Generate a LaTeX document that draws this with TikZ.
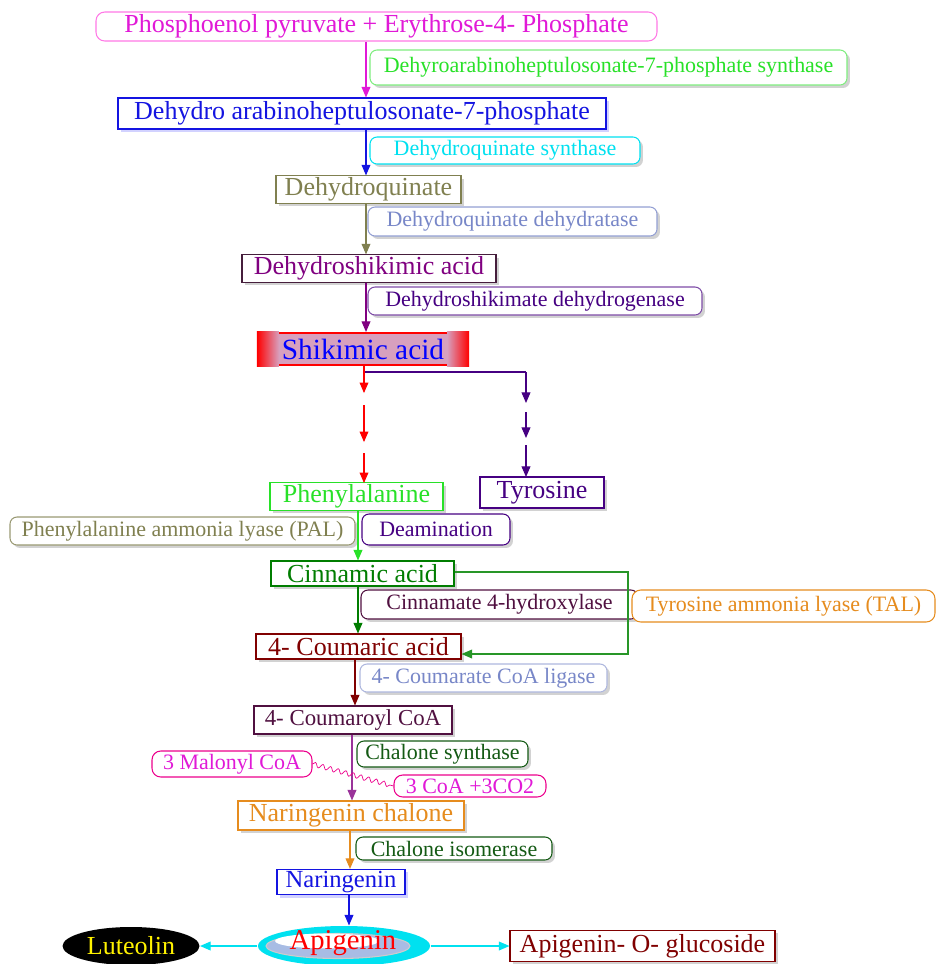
\documentclass[tikz,border=0pt]{standalone}
\usepackage{fontspec}
\setmainfont{Liberation Serif}
\usetikzlibrary{arrows.meta,shapes.geometric,shadows,calc,decorations.pathmorphing}
\definecolor{pepmag}{RGB}{225,25,215}
\definecolor{pepline}{RGB}{255,120,230}
\definecolor{lime}{RGB}{40,225,40}
\definecolor{dahpblue}{RGB}{20,20,225}
\definecolor{aqua}{RGB}{0,225,240}
\definecolor{olivetxt}{RGB}{128,128,80}
\definecolor{slate}{RGB}{120,135,200}
\definecolor{plum}{RGB}{128,0,128}
\definecolor{plumline}{RGB}{70,30,60}
\definecolor{indigo}{RGB}{70,0,130}
\definecolor{darkgreen}{RGB}{0,125,0}
\definecolor{talgreen}{RGB}{40,150,40}
\definecolor{wine}{RGB}{80,16,64}
\definecolor{amber}{RGB}{230,140,30}
\definecolor{maroon}{RGB}{128,0,0}
\definecolor{pine}{RGB}{20,90,20}
\definecolor{apiblue}{RGB}{168,188,228}
\definecolor{shikpink}{RGB}{215,160,190}
\newcommand\bigtxt{\fontsize{14.8}{17}\selectfont}
\newcommand\smtxt{\fontsize{12.5}{15}\selectfont}

\begin{document}
\begin{tikzpicture}[x=0.02cm, y=-0.02cm, line width=0.6pt,
 	->/.style={arrows={-Triangle[length=6pt, width=5pt]}},
	every node/.style={inner sep=1pt,
                        font=\bigtxt
                        },
	sh/.style={drop shadow={shadow xshift=1.7pt, shadow yshift=-1.7pt,
                        fill=#1, opacity=0.5}},
	sh/.default=gray!70,
	proc/.style= {draw, fill=white, sh=#1},
	proc/.default=gray!70,
	enz/.style= {draw, fill=white, rounded corners=4pt,
    			  font=\smtxt, sh
    },
	pill/.style= {draw, fill=white, rounded corners=5pt,
    			  font=\smtxt
    },
	sz/.style 2 args={minimum width=#1*0.02cm, minimum height=#2*0.02cm}
]
	\useasboundingbox (0,0) rectangle (937,964);
	\coordinate (spine) at (366,0);
	\node (pep) [pill, font=\bigtxt, draw=pepline, text=pepmag, sz={561}{29}] at (376.5,26.5) {Phosphoenol pyruvate + Erythrose-4- Phosphate};
	\node (dahps) [enz, draw=lime!60, text=lime, sz={477}{35}] at (608.5,67.5) {Dehyroarabinoheptulosonate-7-phosphate synthase};
	\node (dahp) [proc=blue!35, draw=dahpblue, text=dahpblue, sz={488}{31}] at (362,113.5) {Dehydro arabinoheptulosonate-7-phosphate};
	\node (dhqs) [enz, draw=aqua, text=aqua, sz={270}{27}] at (505,150.5) {Dehydroquinate synthase};
	\node (dhq) [proc, draw=olivetxt, text=olivetxt, sz={185}{27}] at (368.5,189.5) {Dehydroquinate};
	\node (dhqd) [enz, draw=slate!80, text=slate, sz={289}{29}] at (512.5,221.5) {Dehydroquinate dehydratase};
	\node (dhs) [proc, draw=plumline, text=plum, sz={254}{27}] at (369,268.5) {Dehydroshikimic acid};
	\node (sdh) [enz, draw=indigo!70, text=indigo, sz={334}{28}] at (535,301) {Dehydroshikimate dehydrogenase};
	\node (shik) [draw=red, line width=1.2pt, fill=shikpink, sz={210}{32}] at (363,349) {};
	\fill[left color=red, right color=shikpink] (shik.north west) rectangle ($(shik.south west)+(22,0)$);
	\fill[left color=shikpink, right color=red] ($(shik.north east)+(-22,0)$) rectangle (shik.south east);
	\node (shiktxt) [text=blue, font=\fontsize{16.7}{20}\selectfont] at (shik) {Shikimic acid};
	\node (phe) [proc, draw=lime, text=lime, sz={173}{27}] at (356.5,496.5) {Phenylalanine};
	\node (tyr) [proc, draw=indigo, text=indigo, sz={124}{31}] at (542,492.5) {Tyrosine};
	\node (pal) [enz, draw=olivetxt!80, text=olivetxt, sz={345}{28}] at (182.5,531) {Phenylalanine ammonia lyase (PAL)};
	\node (deam) [enz, draw=indigo, text=indigo, sz={148}{31}] at (436,529.5) {Deamination};
	\node (cin) [proc, draw=darkgreen, text=darkgreen, sz={183}{25}] at (362.5,573.5) {Cinnamic acid};
	\node (c4h) [enz, draw=wine, text=wine, sz={277}{29}] at (499.5,604.5) {Cinnamate 4-hydroxylase};
	\node (tal) [pill, draw=amber, text=amber, sz={303}{32}] at (783.5,606) {Tyrosine ammonia lyase (TAL)};
	\node (coum) [proc, draw=maroon, text=maroon, sz={205}{25}] at (358.5,646.5) {4- Coumaric acid};
	\node (fourcl) [enz, draw=slate!60, text=slate, sz={247}{28}] at (483.5,678) {4- Coumarate CoA ligase};
	\node (coa) [proc, draw=wine, text=wine, font=\fontsize{13}{15}\selectfont, sz={198}{28}] at (353,720) {4- Coumaroyl CoA};
	\node (chs) [enz, draw=pine, text=pine, sz={171}{26}] at (442.5,754) {Chalone synthase};
	\node (mal) [pill, draw=magenta, text=pepmag, sz={160}{26}] at (232,764) {3 Malonyl CoA};
	\node (co2) [pill, draw=magenta, text=pepmag, sz={152}{22}] at (470,786) {3 CoA +3CO2};
	\node (narch) [proc, draw=amber, text=amber, sz={226}{29}] at (351,815.5) {Naringenin chalone};
	\node (chi) [enz, draw=pine, text=pine, sz={196}{23}] at (454,848.5) {Chalone isomerase};
	\node (nar) [proc=blue!35, draw=dahpblue, text=dahpblue, font=\fontsize{14}{16}\selectfont, sz={128}{24}] at (341,882) {Naringenin};
	\node (api) [ellipse, fill=aqua, sz={172}{40}] at (344,946) {};
	\node (apiin) [ellipse, fill=apiblue, draw=gray!40, sz={144}{25}] at (338,946) {};
	\node (apihl) [ellipse, fill=white, sz={104}{15}] at (327,941) {};
	\node (apitxt) [text=red, font=\fontsize{16.3}{19}\selectfont] at (343,943) {Apigenin};
	\node (lut) [ellipse, fill=black, text=yellow, sz={137}{38}] at (131,946) {Luteolin};
	\node (glu) [proc, draw=maroon, text=maroon, sz={265}{31}] at (642.5,946) {Apigenin- O- glucoside};

	\draw[->, pepmag] (pep.south -| spine) -- (dahp.north -| spine);
	\draw[->, dahpblue] (dahp.south -| spine) -- (dhq.north -| spine);
	\draw[->, olivetxt] (dhq.south -| spine) -- (dhs.north -| spine);
	\draw[->, plum] (dhs.south -| spine) -- (shik.north -| spine);
	\foreach \a/\b in {0/27,39/76,87/117}
		\draw[->, red] ($(shik.south)+(1,\a)$) -- ($(shik.south)+(1,\b)$);
	\coordinate (fork) at (365,372);
	\coordinate (tybr) at (526,372);
	\draw[indigo] (fork) -- (tybr);
	\foreach \a/\b in {0/31,40/66,73/105}
		\draw[->, indigo] ($(tybr)+(0,\a)$) -- ($(tybr)+(0,\b)$);
	\coordinate (s2) at (358,0);
	\draw[->, lime] (phe.south -| s2) -- (cin.north -| s2);
	\draw[->, darkgreen] (cin.south -| s2) -- (coum.north -| s2);
	\coordinate (loopa) at (628,572);
	\coordinate (loopb) at (628,654);
	\draw[->, talgreen] (cin.east |- loopa) -- (loopa) -- (loopb) -- (coum.east |- loopb);
	\coordinate (s3) at (355,0);
	\draw[->, maroon] (coum.south -| s3) -- (coa.north -| s3);
	\coordinate (s4) at (352,0);
	\draw[->, plum!80] (coa.south -| s4) -- (narch.north -| s4);
	\draw[magenta, line width=0.4pt, decorate, decoration={snake, amplitude=1.3pt, segment length=4.5pt}] (mal.east) -- (co2.west);
	\coordinate (s5) at (350,0);
	\draw[->, amber] (narch.south -| s5) -- (nar.north -| s5);
	\coordinate (s6) at (349,0);
	\draw[->, dahpblue] (nar.south -| s6) -- (api.north -| s6);
	\draw[->, aqua] (api.west) -- (lut.east);
	\draw[->, aqua] (api.east) -- (glu.west);

\end{tikzpicture}
\end{document}
